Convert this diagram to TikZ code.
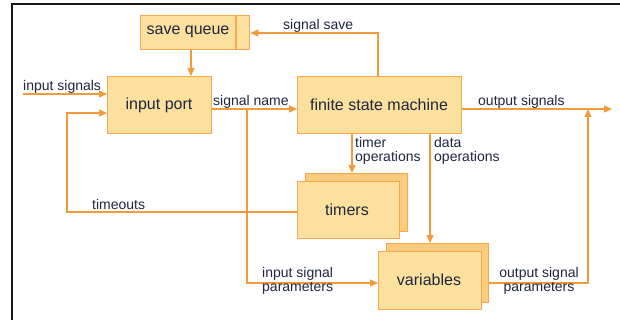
\documentclass[tikz,border=0pt]{standalone}
\usepackage{fontspec}
\setmainfont{Liberation Sans}
\usetikzlibrary{arrows.meta}
\definecolor{boxfill}{HTML}{FCE09E}
\definecolor{boxback}{HTML}{FBCB7E}
\definecolor{boxline}{HTML}{F5A84E}
\definecolor{wire}{HTML}{F39A3A}
\definecolor{txt}{HTML}{1E2640}
\tikzset{
  box/.style={draw=boxline,fill=boxfill,line width=1.3pt,inner sep=0pt,font=\fontsize{16}{18}\selectfont,text=txt},
  backbox/.style={draw=boxline,fill=boxback,line width=1.3pt},
  wireline/.style={draw=wire,line width=1.3pt},
  arr/.style={wireline,-{Triangle[length=8pt,width=7pt]}},
  lbl/.style={font=\fontsize{14}{16}\selectfont,text=txt,inner sep=0pt,align=left},
}
\begin{document}
\begin{tikzpicture}[x=1pt,y=-1pt]
\useasboundingbox (0,0) rectangle (620,320);
\draw[line width=2pt,black!90] (11.7,320) -- (11.7,4) -- (620,4);
% save queue
\node[box,minimum width=109pt,minimum height=34pt,anchor=north west] (sq) at (140,15) {};
\draw[boxline,line width=1.3pt] (236,15) -- (236,49);
\node[font=\fontsize{16}{18}\selectfont,text=txt] (sqt) at (188,32) {save queue};
% input port
\node[box,minimum width=104pt,minimum height=57pt,anchor=north west] (ip) at (107,76) {};
\node[font=\fontsize{16}{18}\selectfont,text=txt] (ipt) at (159,105) {input port};
% fsm
\node[box,minimum width=164pt,minimum height=57pt,anchor=north west] (fsm) at (297,76) {};
\node[font=\fontsize{16}{18}\selectfont,text=txt] (fsmt) at (379,105) {finite state machine};
% timers
\node[backbox,minimum width=102pt,minimum height=58pt,anchor=north west,inner sep=0pt] (tmb) at (305,173) {};
\node[box,minimum width=102pt,minimum height=57pt,anchor=north west] (tm) at (297,181) {};
\node[font=\fontsize{16}{18}\selectfont,text=txt] (tmt) at (347,210) {timers};
% variables
\node[backbox,minimum width=102pt,minimum height=59pt,anchor=north west,inner sep=0pt] (vb) at (386,243) {};
\node[box,minimum width=103pt,minimum height=58pt,anchor=north west] (v) at (378,251) {};
\node[font=\fontsize{16}{18}\selectfont,text=txt] (vt) at (429,280) {variables};
% coordinates
\coordinate (insrc) at (23,94);
\coordinate (outdst) at (612,109);
\coordinate (branch) at (247,109);
\coordinate (tocorner) at (67,212);
% connectors
\draw[arr] (insrc) -- (insrc -| ip.west);
\draw[arr] (sq.south -| 191,0) -- (191,76);
\draw[arr] (fsm.north -| 378,0) |- (sq.east |- 0,33);
\draw[arr] (ip.east |- branch) -- (fsm.west |- branch);
\draw[arr] (fsm.east |- outdst) -- (outdst);
\draw[arr] (tm.west |- tocorner) -- (tocorner) |- (ip.west |- 0,113);
\draw[arr] (branch) |- (v.west |- 0,283);
\draw[arr] (fsm.south -| 352,0) -- (tmb.north -| 352,0);
\draw[arr] (fsm.south -| 430,0) -- (vb.north -| 430,0);
\draw[arr] (vb.east |- 0,283) -| (588,109);
% labels
\node[lbl,anchor=base west] (l1) at (23,91) {input signals};
\node[lbl,anchor=base west] (l2) at (213,106) {signal name};
\node[lbl,anchor=base west] (l3) at (283,30) {signal save};
\node[lbl,anchor=base west] (l4) at (478,106) {output signals};
\node[lbl,anchor=base west] (l5) at (92,209) {timeouts};
\node[lbl,anchor=north west] (l6) at (355,137) {timer\\[-2pt]operations};
\node[lbl,anchor=north west] (l7) at (434,137) {data\\[-2pt]operations};
\node[lbl,anchor=north west] (l8) at (262,267) {input signal\\[-2pt]parameters};
\node[lbl,anchor=north,align=center] (l9) at (539,267) {output signal\\[-2pt]parameters};
\end{tikzpicture}
\end{document}
